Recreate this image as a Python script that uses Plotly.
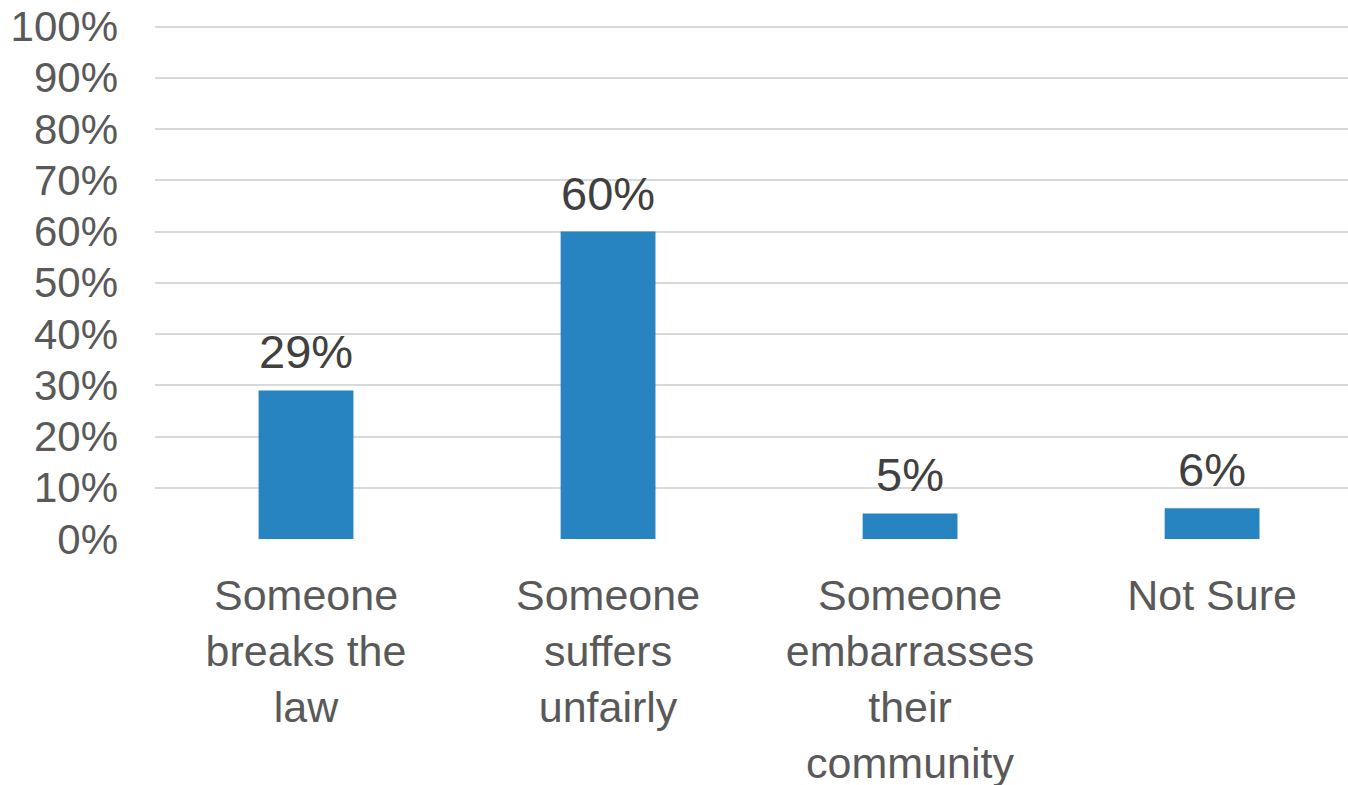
import plotly.graph_objects as go

categories = ["Someone<br>breaks the<br>law", "Someone<br>suffers<br>unfairly",
              "Someone<br>embarrasses<br>their<br>community", "Not Sure"]
values = [29, 60, 5, 6]
labels = ["29%", "60%", "5%", "6%"]
ytick_vals = list(range(0, 101, 10))
ytick_text = [f"{v}%" for v in ytick_vals]

fig = go.Figure(go.Bar(
    x=categories, y=values, marker=dict(color="#2784C0", line=dict(width=0)),
    hoverinfo="skip", cliponaxis=False))

for c, v, t in zip(categories, values, labels):
    fig.add_annotation(x=c, y=v, text=t, showarrow=False, yanchor="bottom",
                       yshift=10, font=dict(family="Liberation Sans, Arial", size=47, color="#404040"))

fig.update_layout(
    width=1348, height=785,
    margin=dict(l=155, r=0, t=25, b=246),
    plot_bgcolor="white", paper_bgcolor="white",
    bargap=0.686, showlegend=False,
    font=dict(family="Liberation Sans, Arial", color="#595959"),
)
fig.update_xaxes(range=[-0.5, 3.45], showgrid=False, zeroline=False, showline=False,
                 tickfont=dict(size=43, color="#595959"), ticklabelstandoff=27,
                 ticks="", automargin=False)
fig.update_yaxes(range=[0, 100.3], tickvals=ytick_vals, ticktext=ytick_text,
                 showgrid=True, gridcolor="#D9D9D9", gridwidth=2, zeroline=False,
                 showline=False, tickfont=dict(size=42, color="#595959"),
                 ticklabelstandoff=36, ticks="", automargin=False)
fig.write_html("out.html", post_script="document.body.style.margin='0';",
               config={"displayModeBar": False})
